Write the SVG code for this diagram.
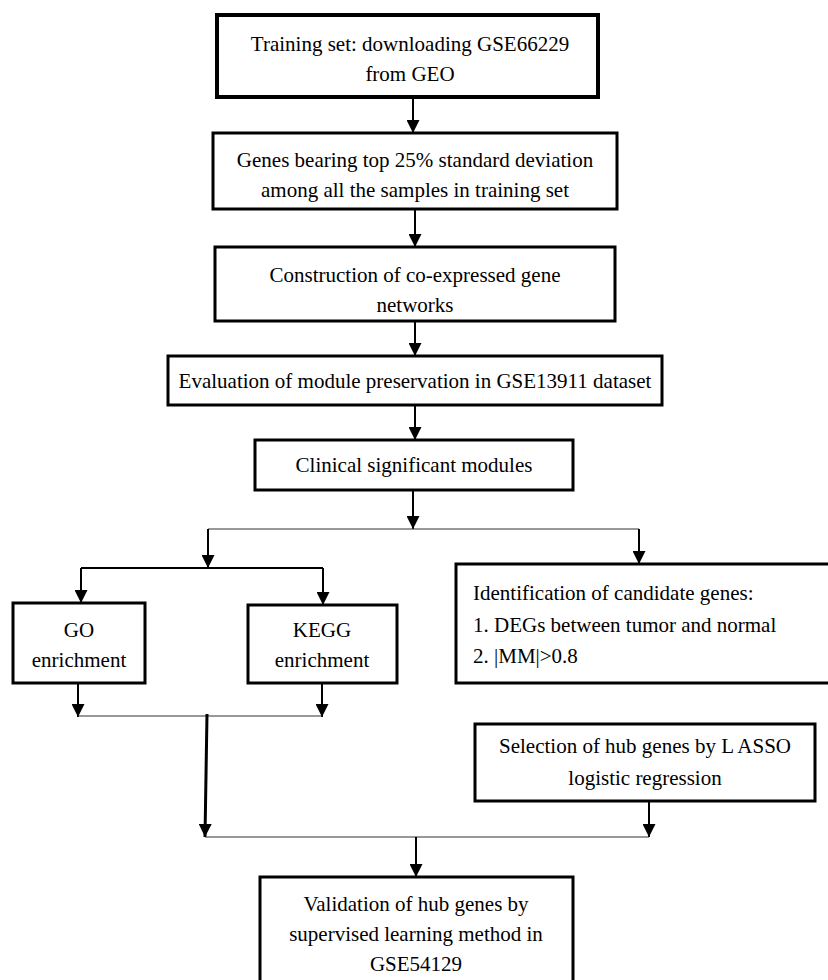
<svg xmlns="http://www.w3.org/2000/svg" width="828" height="980" viewBox="0 0 828 980">
<defs>
<marker id="ah" markerUnits="userSpaceOnUse" markerWidth="13" markerHeight="13" viewBox="0 0 13 13" refX="13" refY="6.5" orient="auto">
<path d="M0,0 L13,6.5 L0,13 z" fill="#000"/>
</marker>
<style>
.box{fill:#fff;stroke:#000;stroke-width:3}
.thick{stroke-width:4}
.t{font-family:"Liberation Serif","Times New Roman",serif;font-size:21px;fill:#000}
.c{text-anchor:middle}
.ln{stroke:#000;stroke-width:2;fill:none}
.thin{stroke:#333;stroke-width:1.2;fill:none}
.arr{stroke:#000;stroke-width:2;fill:none;marker-end:url(#ah)}
</style>
</defs>
<rect width="828" height="980" fill="#fff"/>
<g id="connectors">
<line class="arr" x1="413" y1="97" x2="413" y2="133"/>
<line class="arr" x1="415" y1="209" x2="415" y2="247"/>
<line class="arr" x1="415" y1="321" x2="415" y2="356"/>
<line class="arr" x1="415" y1="405" x2="415" y2="440"/>
<line class="arr" x1="413" y1="490" x2="413" y2="529"/>
<line class="thin" x1="208" y1="529" x2="639" y2="529"/>
<line class="arr" x1="208" y1="529" x2="208" y2="568"/>
<line class="arr" x1="639" y1="529" x2="639" y2="564"/>
<line class="ln" x1="81" y1="568" x2="323" y2="568"/>
<line class="arr" x1="81" y1="568" x2="81" y2="603"/>
<line class="arr" x1="323" y1="568" x2="323" y2="605"/>
<line class="arr" x1="78" y1="683" x2="78" y2="717"/>
<line class="arr" x1="322" y1="683" x2="322" y2="717"/>
<line class="thin" x1="78" y1="716" x2="322" y2="716"/>
<line class="arr" style="stroke-width:3" x1="207" y1="714" x2="205" y2="837"/>
<line class="arr" x1="649" y1="801" x2="649" y2="837"/>
<line class="thin" x1="205" y1="837" x2="649" y2="837"/>
<line class="arr" x1="416" y1="837" x2="416" y2="877"/>
</g>
<g id="n1">
<rect class="box thick" x="217" y="15" width="381" height="82"/>
<text class="t c" x="410" y="51">Training set: downloading GSE66229</text>
<text class="t c" x="410" y="81">from GEO</text>
</g>
<g id="n2">
<rect class="box" x="213" y="133" width="404" height="76"/>
<text class="t c" x="415" y="167">Genes bearing top 25% standard deviation</text>
<text class="t c" x="415" y="197">among all the samples in training set</text>
</g>
<g id="n3">
<rect class="box" x="215" y="247" width="400" height="74"/>
<text class="t c" x="415" y="282">Construction of co-expressed gene</text>
<text class="t c" x="415" y="312">networks</text>
</g>
<g id="n4">
<rect class="box" x="168" y="356" width="494" height="49"/>
<text class="t c" x="415" y="388">Evaluation of module preservation in GSE13911 dataset</text>
</g>
<g id="n5">
<rect class="box" x="255" y="440" width="318" height="50"/>
<text class="t c" x="414" y="472">Clinical significant modules</text>
</g>
<g id="n6">
<rect class="box" x="13" y="603" width="132" height="80"/>
<text class="t c" x="79" y="637">GO</text>
<text class="t c" x="79" y="667">enrichment</text>
</g>
<g id="n7">
<rect class="box" x="248" y="605" width="149" height="78"/>
<text class="t c" x="322" y="637">KEGG</text>
<text class="t c" x="322" y="667">enrichment</text>
</g>
<g id="n8">
<rect class="box" x="456" y="564" width="376" height="119"/>
<text class="t" x="473" y="600">Identification of candidate genes:</text>
<text class="t" x="473" y="632">1. DEGs between tumor and normal</text>
<text class="t" x="473" y="663">2. |MM|&gt;0.8</text>
</g>
<g id="n9">
<rect class="box" x="475" y="724" width="340" height="77"/>
<text class="t c" x="645" y="753">Selection of hub genes by L ASSO</text>
<text class="t c" x="645" y="785">logistic regression</text>
</g>
<g id="n10">
<rect class="box" x="260" y="877" width="313" height="115"/>
<text class="t c" x="416" y="911">Validation of hub genes by</text>
<text class="t c" x="416" y="941">supervised learning method in</text>
<text class="t c" x="416" y="971">GSE54129</text>
</g>
</svg>
